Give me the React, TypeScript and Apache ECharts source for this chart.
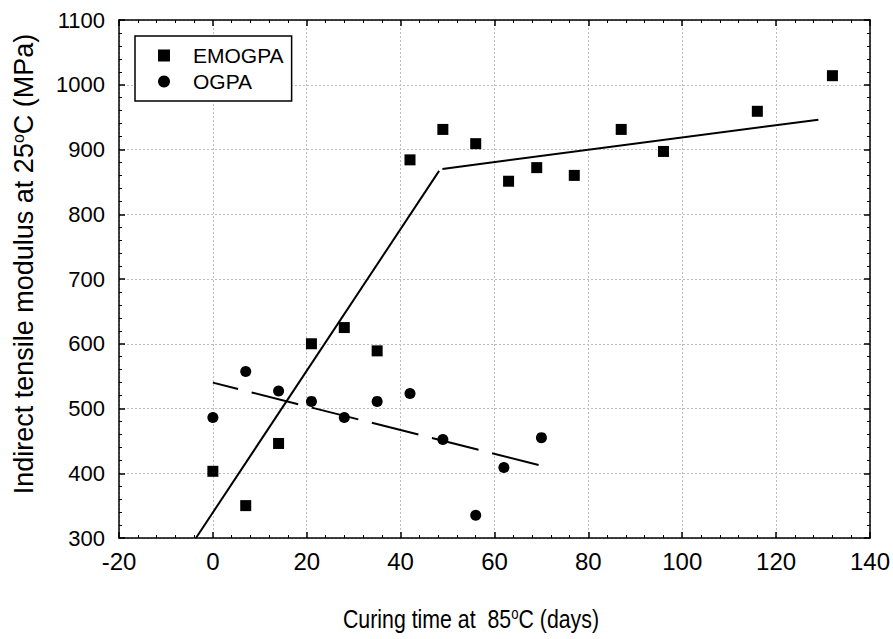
import React, { useEffect, useRef } from 'react';
import * as echarts from 'echarts';

// Measured points (curing days, modulus MPa)
const emoDays = [0, 7, 14, 21, 28, 35, 42, 49, 56, 63, 69, 77, 87, 96, 116, 132];
const emoModulus = [403, 350, 446, 600, 625, 589, 884, 931, 909, 851, 872, 860, 931, 897, 959, 1014];
const ogDays = [0, 7, 14, 21, 28, 35, 42, 49, 56, 62, 70];
const ogModulus = [486, 557, 527, 511, 486, 511, 523, 452, 335, 409, 455];

// Fitted trend lines (end points)
const emoFit1Days = [-3.6, 48.2];
const emoFit1Modulus = [300, 867];
const emoFit2Days = [48.9, 129];
const emoFit2Modulus = [870, 946];
const ogFitDays = [0, 72];
const ogFitModulus = [540, 408];

const xTicks = { min: -20, max: 140, interval: 20 };
const yTicks = { min: 300, max: 1100, interval: 100 };

const xTitle = 'Curing time at  85{sup|o}C (days)';
const yTitle = 'Indirect tensile modulus at 25{sup|o}C (MPa)';

const SANS = '"Liberation Sans", Arial, Helvetica, sans-serif';

const pair = (xs: number[], ys: number[]) => xs.map((x, i) => [x, ys[i]]);

export default function App() {
  const ref = useRef<HTMLDivElement>(null);
  useEffect(() => {
    const chart = echarts.init(ref.current!, null, { renderer: 'svg' });
    const axisLine = { show: true, onZero: false, lineStyle: { color: '#000', width: 1.5 } };
    const axisTick = { show: true, inside: true, length: 6, lineStyle: { color: '#000', width: 1.5 } };
    const minorTick = { show: true, splitNumber: 5, length: 3, lineStyle: { color: '#000', width: 1 } };
    const splitLine = { show: true, lineStyle: { color: '#bdbdbd', type: [2, 2], width: 1 } };
    chart.setOption({
      animation: false,
      backgroundColor: '#fff',
      grid: { left: 119, right: 22, top: 20, bottom: 101, containLabel: false },
      legend: {
        data: [
          { name: 'EMOGPA', icon: 'rect' },
          { name: 'OGPA', icon: 'circle' },
        ],
        orient: 'vertical',
        left: 135,
        top: 36,
        backgroundColor: '#fff',
        borderColor: '#000',
        borderWidth: 1.5,
        borderRadius: 0,
        padding: [9, 8, 9, 23],
        itemWidth: 12,
        itemHeight: 12,
        itemGap: 5,
        itemStyle: { opacity: 1 },
        textStyle: { fontSize: 21, fontFamily: SANS, color: '#000', lineHeight: 21, padding: [0, 0, 0, 18] },
      },
      graphic: [
        {
          type: 'text',
          x: 471,
          y: 619,
          scaleX: 0.82,
          silent: true,
          style: {
            text: xTitle,
            x: 0,
            y: 0,
            align: 'center',
            verticalAlign: 'middle',
            fill: '#000',
            fontFamily: SANS,
            fontSize: 26,
            rich: { sup: { fontFamily: SANS, fontSize: 16, fill: '#000', verticalAlign: 'top', lineHeight: 16 } },
          },
        },
      ],
      xAxis: [
        {
          type: 'value',
          ...xTicks,
          position: 'bottom',
          axisLine,
          axisTick,
          minorTick,
          splitLine,
          axisLabel: { color: '#000', fontFamily: SANS, fontSize: 24, margin: 11 },
        },
        {
          type: 'value',
          ...xTicks,
          position: 'top',
          axisLine,
          axisTick,
          minorTick,
          splitLine: { show: false },
          axisLabel: { show: false },
        },
      ],
      yAxis: [
        {
          type: 'value',
          ...yTicks,
          position: 'left',
          axisLine,
          axisTick,
          minorTick,
          splitLine,
          axisLabel: { color: '#000', fontFamily: SANS, fontSize: 22, margin: 14, formatter: (v: number) => String(v) },
          name: yTitle,
          nameLocation: 'middle',
          nameGap: 82,
          nameTextStyle: {
            color: '#000',
            fontFamily: SANS,
            fontSize: 27,
            padding: [0, 0, 0, 30],
            rich: { sup: { fontFamily: SANS, fontSize: 16, color: '#000', verticalAlign: 'top', lineHeight: 16 } },
          },
        },
        {
          type: 'value',
          ...yTicks,
          position: 'right',
          axisLine,
          axisTick,
          minorTick,
          splitLine: { show: false },
          axisLabel: { show: false },
        },
      ],
      series: [
        {
          name: 'EMOGPA',
          type: 'scatter',
          symbol: 'rect',
          symbolSize: 11,
          itemStyle: { color: '#000', opacity: 1 },
          data: pair(emoDays, emoModulus),
          z: 5,
        },
        {
          name: 'OGPA',
          type: 'scatter',
          symbol: 'circle',
          symbolSize: 11,
          itemStyle: { color: '#000', opacity: 1 },
          data: pair(ogDays, ogModulus),
          z: 5,
        },
        {
          name: 'EMOGPA fit 1',
          type: 'line',
          symbol: 'none',
          silent: true,
          lineStyle: { color: '#000', width: 2 },
          data: pair(emoFit1Days, emoFit1Modulus),
        },
        {
          name: 'EMOGPA fit 2',
          type: 'line',
          symbol: 'none',
          silent: true,
          lineStyle: { color: '#000', width: 2 },
          data: pair(emoFit2Days, emoFit2Modulus),
        },
        {
          name: 'OGPA fit',
          type: 'line',
          symbol: 'none',
          silent: true,
          lineStyle: { color: '#000', width: 2, type: [48, 14], dashOffset: 22 },
          data: pair(ogFitDays, ogFitModulus),
        },
      ],
    });
    return () => chart.dispose();
  }, []);
  return (
    <div
      ref={ref}
      style={{ position: 'fixed', left: 0, top: 0, width: 893, height: 639, background: '#fff' }}
    />
  );
}
